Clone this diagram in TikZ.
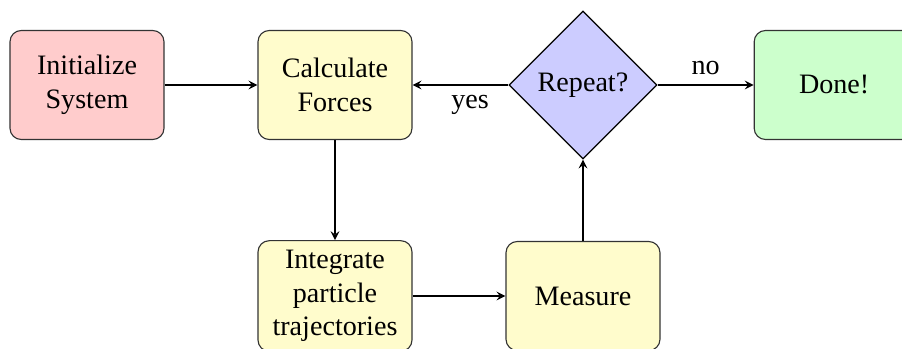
\documentclass[tikz,border=0pt]{standalone}
\usepackage{fontspec}
\setmainfont{Liberation Serif}
\usetikzlibrary{shapes.geometric, arrows}
\tikzstyle{startbox} = [rectangle, rounded corners=4pt, minimum width=1.925cm, minimum height=1.3625cm, align=center, draw=black!80, fill=red!20]
\tikzstyle{process} = [rectangle, rounded corners=4pt, minimum width=1.925cm, minimum height=1.3625cm, align=center, draw=black!80, fill=yellow!20]
\tikzstyle{decision} = [diamond, minimum width=1.85cm, minimum height=1.85cm, inner sep=0pt, align=center, draw=black, fill=blue!20]
\tikzstyle{donebox} = [rectangle, rounded corners=4pt, minimum width=2cm, minimum height=1.3625cm, align=center, draw=black!80, fill=green!20]
\tikzstyle{arrow} = [->,>=stealth]

\begin{document}
\begin{tikzpicture}[node distance=3.1cm]
\clip (0,0) rectangle (11.275,4.3625);
\node (init) [startbox] at (1.0875,3.3) {Initialize\\System};
\node (calc) [process, right of=init] {Calculate\\Forces};
\node (repeat) [decision, right of=calc] {Repeat?};
\node (done) [donebox, right of=repeat, xshift=0.04cm] {Done!};
\node (integ) [process, below of=calc, yshift=0.4625cm] {Integrate\\particle\\trajectories};
\node (measure) [process, right of=integ] {Measure};

\draw [arrow] (init) -- (calc);
\draw [arrow] (calc) -- (integ);
\draw [arrow] (integ) -- (measure);
\draw [arrow] (measure) -- (repeat);
\draw [arrow] (repeat) -- node[pos=0.4, below] {yes} (calc);
\draw [arrow] (repeat) -- node[above] {no} (done);
\end{tikzpicture}
\end{document}
